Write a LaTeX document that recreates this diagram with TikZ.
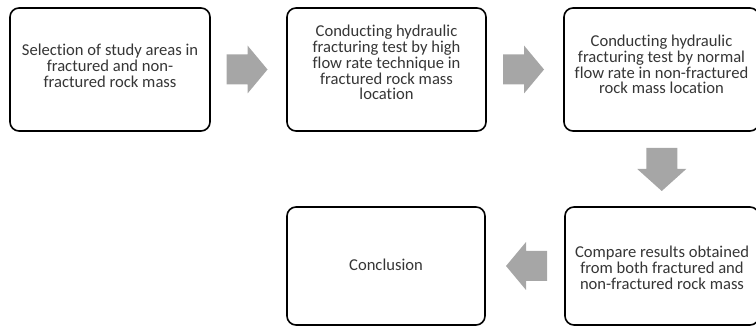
\documentclass[tikz,border=0pt]{standalone}
\usepackage{fontspec}
\setmainfont{Carlito}[Ligatures=NoCommon]
\usetikzlibrary{calc}
\definecolor{txt}{HTML}{363636}
\definecolor{arr}{HTML}{A6A6A6}
\begin{document}
\begin{tikzpicture}[x=1pt,y=1pt,
  box/.style={draw=black, line width=1.6pt, rounded corners=9pt, fill=white,
    minimum width=#1, minimum height=123pt, inner sep=0pt},
  box/.default=200pt,
  boxtext/.style={align=center, inner sep=0pt, text=txt,
    font=\fontsize{16.6}{15.8}\selectfont},
  blockarrow/.style={fill=arr}]
\useasboundingbox (0,0) rectangle (756,327);
\clip (0,0) rectangle (756,327);
% boxes
\node[box] (b1) at (110,257.5) {};
\node[box=199pt] (b2) at (386.5,257.5) {};
\node[box=195pt] (b3) at (661.5,257.5) {};
\node[box=198pt, minimum height=118pt] (b4) at (386,61) {};
\node[box=194pt, minimum height=118pt] (b5) at (662,61) {};
% texts
\node[boxtext] (t1) at ([yshift=4pt]b1.center) {Selection of study areas in\\fractured and non-\\fractured rock mass};
\node[boxtext] (t2) at ([yshift=7pt]b2.center) {Conducting hydraulic\\fracturing test by high\\flow rate technique in\\fractured rock mass\\location};
\node[boxtext] (t3) at ([yshift=5pt]b3.center) {Conducting hydraulic\\fracturing test by normal\\flow rate in non-fractured\\rock mass location};
\node[boxtext] (t4) at ([yshift=1pt]b4.center) {Conclusion};
\node[boxtext] (t5) at ([yshift=-1.5pt]b5.center) {Compare results obtained\\from both fractured and\\non-fractured rock mass};
% block arrows
\coordinate (m1) at ($(b1.east)!0.5!(b2.west)$);
\coordinate (m2) at ($(b2.east)!0.5!(b3.west)$);
\coordinate (m3) at ($(b3.south)!0.5!(b5.north)$);
\coordinate (m4) at ($(b5.west)!0.5!(b4.east)$);
\fill[blockarrow, shift={(m1)}] (-22,-15) -- (-1,-15) -- (-1,-24) -- (19,0) -- (-1,24) -- (-1,15) -- (-22,15) -- cycle;
\fill[blockarrow, shift={(m2)}] (-22,-15) -- (-1,-15) -- (-1,-24) -- (19,0) -- (-1,24) -- (-1,15) -- (-22,15) -- cycle;
\fill[blockarrow, shift={(m3)}, rotate=-90] (-21,-15.5) -- (0,-15.5) -- (0,-24.5) -- (22,0) -- (0,24.5) -- (0,15.5) -- (-21,15.5) -- cycle;
\fill[blockarrow, shift={(m4)}, rotate=180] (-22,-15) -- (-1,-15) -- (-1,-24) -- (19,0) -- (-1,24) -- (-1,15) -- (-22,15) -- cycle;
\end{tikzpicture}
\end{document}
